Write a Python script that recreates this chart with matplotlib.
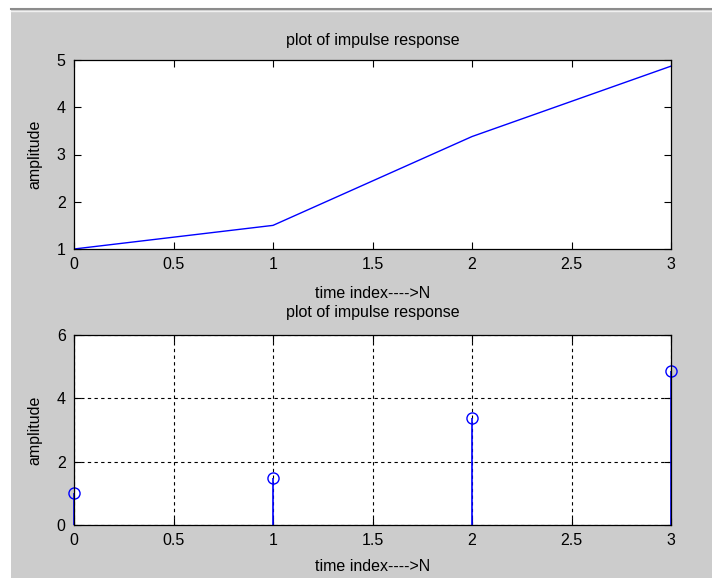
import matplotlib.pyplot as plt
from matplotlib.patches import Rectangle
from matplotlib.lines import Line2D

plt.rcParams['font.family'] = ['Liberation Sans Narrow', 'Liberation Sans', 'DejaVu Sans']
plt.rcParams['font.size'] = 11.5

# impulse response samples
n = [0, 1, 2, 3]
h = [1.0, 1.5, 3.38, 4.87]

x_ticks = [0, 0.5, 1, 1.5, 2, 2.5, 3]
x_ticklabels = ['0', '0.5', '1', '1.5', '2', '2.5', '3']
y_ticks_top = [1, 2, 3, 4, 5]
y_ticks_bottom = [0, 2, 4, 6]

W, H = 712, 580
fig = plt.figure(figsize=(W / 100, H / 100), dpi=100, facecolor='white')

# MATLAB style grey window
fig.patches.append(Rectangle((11 / W, 2 / H), 1 - 11 / W, (570 - 2) / H,
                             transform=fig.transFigure, facecolor='#cccccc',
                             edgecolor='none', zorder=-10))
fig.lines.append(Line2D([11 / W, 1], [1 - 8.5 / H, 1 - 8.5 / H],
                        transform=fig.transFigure, color='#8c8c8c', lw=1.5, zorder=-5))
fig.lines.append(Line2D([11 / W, 1], [1 - 10.5 / H, 1 - 10.5 / H],
                        transform=fig.transFigure, color='#f0f0f0', lw=1, zorder=-5))


def make_axes(top, bottom):
    left, right = 74, 671
    ax = fig.add_axes([left / W, 1 - bottom / H, (right - left) / W, (bottom - top) / H])
    ax.set_facecolor('white')
    ax.tick_params(direction='in', top=True, right=True, length=5, width=0.8,
                   labelsize=11.5)
    ax.tick_params(axis='x', pad=6)
    ax.tick_params(axis='y', pad=6)
    for s in ax.spines.values():
        s.set_linewidth(0.9)
    ax.set_xlim(0, 3)
    ax.set_xticks(x_ticks)
    ax.set_xticklabels(x_ticklabels)
    return ax


# continuous plot
ax1 = make_axes(60, 249)
ax1.plot(n, h, color='#0000ff', lw=1)
ax1.set_ylim(1, 5)
ax1.set_yticks(y_ticks_top)
ax1.set_title('plot of impulse response', fontsize=11.5, pad=11)
ax1.set_xlabel('time index---->N', labelpad=10)
ax1.set_ylabel('amplitude', labelpad=10)

# discrete stem plot
ax2 = make_axes(335, 525)
markerline, stemlines, baseline = ax2.stem(n, h, linefmt='b-', markerfmt='o', basefmt='k-')
markerline.set_markerfacecolor('none')
markerline.set_markeredgecolor('#0000ff')
markerline.set_markersize(8)
markerline.set_clip_on(False)
stemlines.set_color('#0000ff')
stemlines.set_linewidth(1.2)
stemlines.set_clip_on(False)
baseline.set_visible(False)
ax2.set_ylim(0, 6)
ax2.set_yticks(y_ticks_bottom)
ax2.grid(True, color='black', linestyle=(0, (3, 3)), lw=0.8)
ax2.set_axisbelow(True)
ax2.set_title('plot of impulse response', fontsize=11.5, pad=13)
ax2.set_xlabel('time index---->N', labelpad=8)
ax2.set_ylabel('amplitude', labelpad=10)

fig.savefig('out.png', dpi=100)
